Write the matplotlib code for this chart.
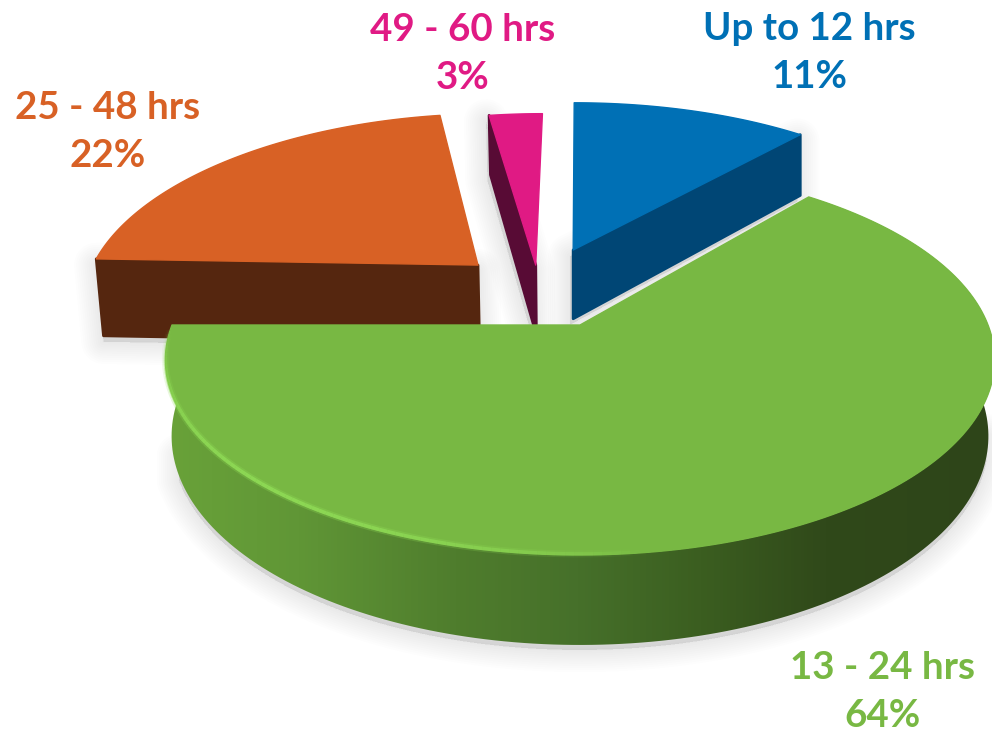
import numpy as np
import matplotlib
matplotlib.use("Agg")
import matplotlib.pyplot as plt
from matplotlib.patches import Polygon
from matplotlib.colors import LinearSegmentedColormap

# values
labels = ['Up to 12 hrs', '13 - 24 hrs', '25 - 48 hrs', '49 - 60 hrs']
percents = [11, 64, 22, 3]
slice_sizes = [11, 64, 22.4, 2.6]

# styles, same order as labels
top_colors = ['#0070B5', '#78B843', '#D86125', '#E01A84']
side_colors = ['#004675', '#3F6A25', '#55260F', '#580B35']
text_colors = ['#0070B5', '#78B843', '#D86125', '#E01A84']
explode_x = [-0.018, 0.0, -0.265, -0.115]
explode_y = [0.427, 0.0, 0.336, 0.336]
stretch_x = [1.03, 1.0, 1.0, 1.0]
stretch_y = [1.06, 1.0, 1.06, 1.06]
start_shift = [0, 0, 2, 0]
end_shift = [1.4, 0, 0, 0]
depths = [74, 74, 82, 74]
shrinks = [1.0, 0.985, 0.985, 0.985]
shadow_dx = [-3, 0, 0, -3]
label_xy = [(809, 53), (883, 692), (108, 132), (463, 54)]

# camera of the pie, in pixels of the picture
cx, cy = 580, 325
rx, ry = 408, 189
persp = 0.178


def project(X, Y):
    w = 1 + persp * Y
    return cx + rx * X / w, cy - ry * Y / w


def extrude(i, x, Y):
    # bottom ring sits lower and a bit closer to the middle
    return cx + (x - cx) * shrinks[i], depths[i] / (1 + persp * Y)


def rim(i, a1, a2, n=200):
    t = np.radians(np.linspace(a1, a2, n))
    return explode_x[i] + stretch_x[i] * np.sin(t), explode_y[i] + stretch_y[i] * np.cos(t)


fig = plt.figure(figsize=(9.92, 7.34), dpi=100)
ax = fig.add_axes([0, 0, 1, 1])
ax.set_xlim(0, 992)
ax.set_ylim(734, 0)
ax.axis('off')


def soft_shadow(xs, ys, dx, dy, zorder):
    # a few growing outlines stand in for the blurred shadow
    pts = np.column_stack([xs + dx, ys + dy])
    for lw in np.arange(2, 34, 3):
        ax.add_patch(Polygon(pts, closed=True, fc='#000000', ec='#000000', alpha=0.009,
                             lw=lw, joinstyle='round', zorder=zorder))


order = [0, 3, 2, 1]
angles = np.cumsum([0] + slice_sizes) / sum(slice_sizes) * 360

for z, i in enumerate(order):
    a1, a2 = angles[i] + start_shift[i], angles[i + 1] + end_shift[i]
    ox, oy = explode_x[i], explode_y[i]
    rim_x, rim_y = rim(i, a1, a2)
    X = np.r_[ox, rim_x]
    Y = np.r_[oy, rim_y]
    px, py = project(X, Y)
    base = 10 + z * 10

    if labels[i] == '13 - 24 hrs':
        # outer wall with the left to right shading
        wx, wy = project(rim_x, rim_y)
        bx, bd = extrude(i, wx, rim_y)
        wall_x = np.r_[wx, bx[::-1]]
        wall_y = np.r_[wy, (wy + bd)[::-1]]
        t = np.linspace(a1, a2, len(wx))
        low = (t > 105) & (t < 250)
        soft_shadow(np.r_[bx[low], bx[low][::-1]], np.r_[(wy + bd)[low] - 25, (wy + bd)[low][::-1]], 0, 5, base)
        wall = Polygon(np.column_stack([wall_x, wall_y]), closed=True, fc='none', ec='none', zorder=base + 1)
        ax.add_patch(wall)
        cmap = LinearSegmentedColormap.from_list('wall', [
            (0.0, '#69A239'), (0.16, '#609636'), (0.35, '#4F7D2D'), (0.5, '#46702A'),
            (0.65, '#3B5E20'), (0.8, '#30491A'), (1.0, '#2E4519')])
        im = ax.imshow(np.linspace(0, 1, 256)[None, :], extent=[165, 992, 734, 0], cmap=cmap,
                       aspect='auto', zorder=base + 1, interpolation='bilinear')
        im.set_clip_path(wall)
        ax.set_xlim(0, 992)
        ax.set_ylim(734, 0)
    else:
        # flat cut face seen from the front
        if labels[i] == 'Up to 12 hrs':
            fx, fy = rim_x[-1], rim_y[-1]
        else:
            fx, fy = rim_x[0], rim_y[0]
        ey_pts = np.array([oy, fy])
        ex, ey = project(np.array([ox, fx]), ey_pts)
        bx, bd = extrude(i, ex, ey_pts)
        face_x = np.r_[ex, bx[::-1]]
        face_y = np.r_[ey, (ey + bd)[::-1]]
        soft_shadow(face_x, face_y, shadow_dx[i], 6, base)
        ax.add_patch(Polygon(np.column_stack([face_x, face_y]), closed=True, fc=side_colors[i],
                             ec=side_colors[i], lw=2, joinstyle='round', zorder=base + 1))

    ax.add_patch(Polygon(np.column_stack([px, py]), closed=True, fc=top_colors[i], ec=top_colors[i],
                         lw=1, joinstyle='round', zorder=base + 2))

    if labels[i] == '13 - 24 hrs':
        # light bevel along the front edge
        hx, hy = rim(i, 172, a2 - 2, 90)
        lx, ly = project(hx, hy)
        s = np.linspace(0, 1, 90)
        fade = np.clip(np.sin(np.pi * s) ** 0.7, 0.05, 1) * 0.85
        for lw, a in [(5, 0.35), (2.6, 1.0)]:
            for k in range(len(lx) - 1):
                ax.plot(lx[k:k + 2], ly[k:k + 2] - 1, color='#8FDB56', lw=lw, alpha=float(fade[k]) * a,
                        solid_capstyle='butt', zorder=base + 3)

for i in range(len(labels)):
    ax.text(label_xy[i][0], label_xy[i][1], f'{labels[i]}\n{percents[i]}%', color=text_colors[i],
            family='Lato', fontweight='bold', fontsize=27.7, ha='center', va='center',
            linespacing=1.48, zorder=60)

fig.savefig('out.png', dpi=100)
